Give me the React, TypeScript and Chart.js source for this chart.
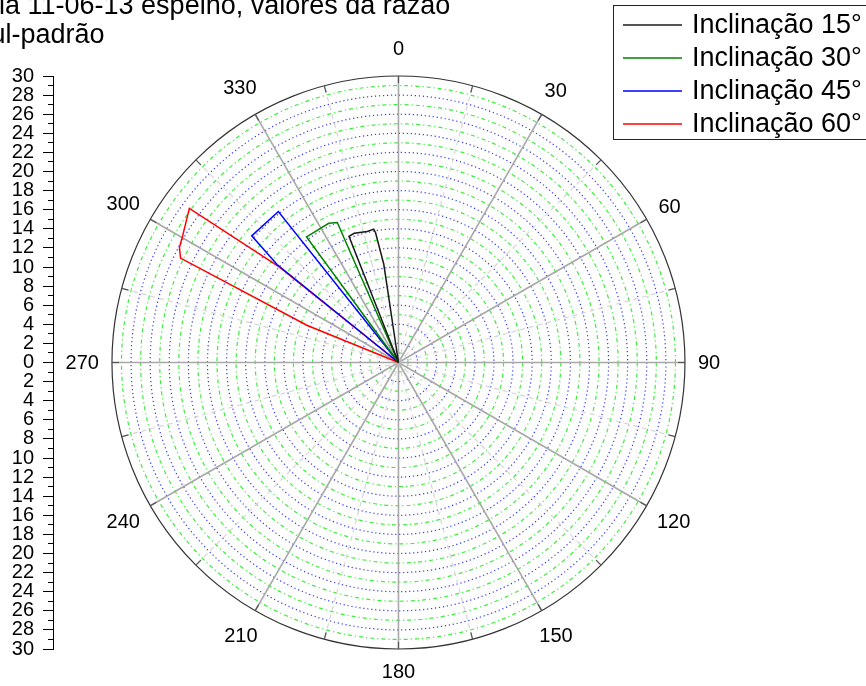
import React, { useEffect, useRef } from 'react';
import { Chart, registerables } from 'chart.js';

Chart.register(...registerables);

// ---------- text ----------
const TITLE_LINES = ['ia 11-06-13 espelho, valores da razão', 'ul-padrão'];
const SERIES_LABELS = ['Inclinação 15°', 'Inclinação 30°', 'Inclinação 45°', 'Inclinação 60°'];
const SERIES_COLORS = ['#1a1a1a', '#008000', '#0000ff', '#ff0000'];

// ---------- data (angle in degrees clockwise from 0 at top, radius) ----------
const INCL15_ANGLE = [338.6, 338.6, 341.1, 346.6, 349.5, 350.0, 351.5, 351.5];
const INCL15_R = [0, 14.2, 14.3, 14.1, 14.2, 13.8, 10.4, 0];

const INCL30_ANGLE = [323.8, 323.8, 333.4, 336.4, 336.4];
const INCL30_R = [0, 16.3, 16.3, 16.0, 0];

const INCL45_ANGLE = [308.9, 308.9, 310.8, 321.5, 321.5];
const INCL45_R = [0, 16.3, 20.3, 20.2, 0];

const INCL60_ANGLE = [308.7, 308.7, 306.4, 300.4, 297.7, 295.6, 292.1, 292.1];
const INCL60_R = [0, 16.0, 27.2, 26.2, 25.9, 25.3, 10.3, 0];

// ---------- axes ----------
const RADIUS_MAX = 30;
const ANGLE_LABELS = [0, 30, 60, 90, 120, 150, 180, 210, 240, 270, 300, 330];
const ANGLE_TICK_STEP = 15;

const FONT = '"Liberation Sans", Arial, sans-serif';

function toXY(angles: number[], radii: number[]) {
  return angles.map((a, i) => {
    const t = (a * Math.PI) / 180;
    return { x: radii[i] * Math.sin(t), y: radii[i] * Math.cos(t) };
  });
}

const polarGrid = {
  id: 'polarGrid',
  beforeDatasetsDraw(chart: any) {
    const { ctx } = chart;
    const xs = chart.scales.x;
    const ys = chart.scales.y;
    const cx = xs.getPixelForValue(0);
    const cy = ys.getPixelForValue(0);
    const px = (r: number) => cy - ys.getPixelForValue(r);
    const R = px(RADIUS_MAX);
    ctx.save();
    // circles
    for (let r = 1; r < RADIUS_MAX; r++) {
      ctx.beginPath();
      ctx.arc(cx, cy, px(r), 0, Math.PI * 2);
      if (r % 2 === 0) {
        ctx.strokeStyle = 'rgba(30,30,255,0.9)';
        ctx.setLineDash([1.2, 2.8]);
      } else {
        ctx.strokeStyle = 'rgba(40,235,40,0.9)';
        ctx.setLineDash([4, 3, 1.2, 3]);
      }
      ctx.lineWidth = 1.2;
      ctx.stroke();
    }
    // spokes
    for (let a = 0; a < 360; a += ANGLE_TICK_STEP) {
      const major = a % 30 === 0;
      const t = (a * Math.PI) / 180;
      ctx.beginPath();
      ctx.setLineDash(major ? [] : [5, 4]);
      ctx.strokeStyle = major ? '#a8a8a8' : '#d6d6d6';
      ctx.lineWidth = major ? 1.6 : 1.2;
      ctx.moveTo(cx, cy);
      ctx.lineTo(cx + R * Math.sin(t), cy - R * Math.cos(t));
      ctx.stroke();
    }
    // outer circle
    ctx.setLineDash([]);
    ctx.beginPath();
    ctx.arc(cx, cy, R, 0, Math.PI * 2);
    ctx.strokeStyle = '#333';
    ctx.lineWidth = 1.2;
    ctx.stroke();
    // outer ticks
    for (let a = 0; a < 360; a += ANGLE_TICK_STEP) {
      const t = (a * Math.PI) / 180;
      ctx.beginPath();
      ctx.strokeStyle = '#555';
      ctx.lineWidth = 1.2;
      ctx.moveTo(cx + (R - 7) * Math.sin(t), cy - (R - 7) * Math.cos(t));
      ctx.lineTo(cx + R * Math.sin(t), cy - R * Math.cos(t));
      ctx.stroke();
    }
    // angle labels
    ctx.font = `20px ${FONT}`;
    ctx.fillStyle = '#000';
    ctx.textAlign = 'center';
    ctx.textBaseline = 'middle';
    const h = 15;
    ANGLE_LABELS.forEach((a) => {
      const t = (a * Math.PI) / 180;
      const s = Math.sin(t);
      const c = Math.cos(t);
      const text = String(a);
      const w = ctx.measureText(text).width;
      const c6 = Math.pow(Math.abs(c), 6);
      const gap = 13 + c6 * (4.5 + 2.5 * Math.sign(c));
      const d = R + gap + Math.abs(s) * (w / 2) + Math.abs(c) * (h / 2);
      ctx.fillText(text, cx + d * s, cy - d * c + 1);
    });
    ctx.restore();
  },
};

const legendAndTitle = {
  id: 'legendAndTitle',
  afterDraw(chart: any) {
    const { ctx } = chart;
    ctx.save();
    // title
    ctx.font = `27px ${FONT}`;
    ctx.fillStyle = '#000';
    ctx.textAlign = 'left';
    ctx.textBaseline = 'alphabetic';
    ctx.fillText(TITLE_LINES[0], -1, 14);
    ctx.fillText(TITLE_LINES[1], -9.5, 43);
    // legend
    const left = 613;
    const top = 5;
    const rowH = 33;
    const n = chart.data.datasets.length;
    ctx.strokeStyle = '#222';
    ctx.lineWidth = 1;
    ctx.strokeRect(left + 0.5, top + 0.5, 300, n * rowH + 2);
    ctx.font = `27px ${FONT}`;
    ctx.textBaseline = 'middle';
    chart.data.datasets.forEach((ds: any, i: number) => {
      const y = top + 20 + i * rowH;
      ctx.beginPath();
      ctx.strokeStyle = ds.borderColor;
      ctx.lineWidth = 1.5;
      ctx.moveTo(left + 10, y);
      ctx.lineTo(left + 69, y);
      ctx.stroke();
      ctx.fillStyle = '#000';
      ctx.fillText(ds.label, left + 79, y + 1);
    });
    ctx.restore();
  },
};

export default function App() {
  const ref = useRef<HTMLCanvasElement | null>(null);
  useEffect(() => {
    if (!ref.current) return;
    const series = [
      toXY(INCL15_ANGLE, INCL15_R),
      toXY(INCL30_ANGLE, INCL30_R),
      toXY(INCL45_ANGLE, INCL45_R),
      toXY(INCL60_ANGLE, INCL60_R),
    ];
    const chart = new Chart(ref.current, {
      type: 'scatter',
      data: {
        datasets: series.map((d, i) => ({
          label: SERIES_LABELS[i],
          data: d,
          showLine: true,
          borderColor: SERIES_COLORS[i],
          backgroundColor: SERIES_COLORS[i],
          borderWidth: 1.5,
          pointRadius: 0,
          tension: 0,
          fill: false,
        })),
      },
      options: {
        animation: false,
        responsive: true,
        maintainAspectRatio: false,
        events: [],
        layout: { padding: { left: 0, top: 76, right: 181, bottom: 37 } },
        plugins: {
          legend: { display: false },
          title: { display: false },
          tooltip: { enabled: false },
        },
        scales: {
          x: {
            type: 'linear',
            display: false,
            min: -36.17,
            max: RADIUS_MAX,
          },
          y: {
            type: 'linear',
            position: 'left',
            min: -RADIUS_MAX,
            max: RADIUS_MAX,
            afterFit: (scale: any) => {
              scale.width = 53;
            },
            ticks: {
              stepSize: 1,
              autoSkip: false,
              padding: 9,
              color: '#000',
              font: { family: FONT, size: 20 },
              callback: (v: any) => {
                const n = Math.round(Number(v));
                return n % 2 === 0 ? String(Math.abs(n)) : '';
              },
            },
            grid: {
              drawOnChartArea: false,
              drawTicks: true,
              tickLength: 10,
              tickColor: '#000',
              tickWidth: 1,
              tickBorderDash: (c: any) =>
                c.tick && Math.round(c.tick.value) % 2 !== 0 ? [0, 5, 5] : [],
            },
            border: { display: true, color: '#000', width: 1 },
          },
        },
      },
      plugins: [polarGrid, legendAndTitle],
    });
    return () => chart.destroy();
  }, []);
  return (
    <div style={{ position: 'fixed', left: 0, top: 0, width: 866, height: 686 }}>
      <canvas ref={ref} />
    </div>
  );
}
